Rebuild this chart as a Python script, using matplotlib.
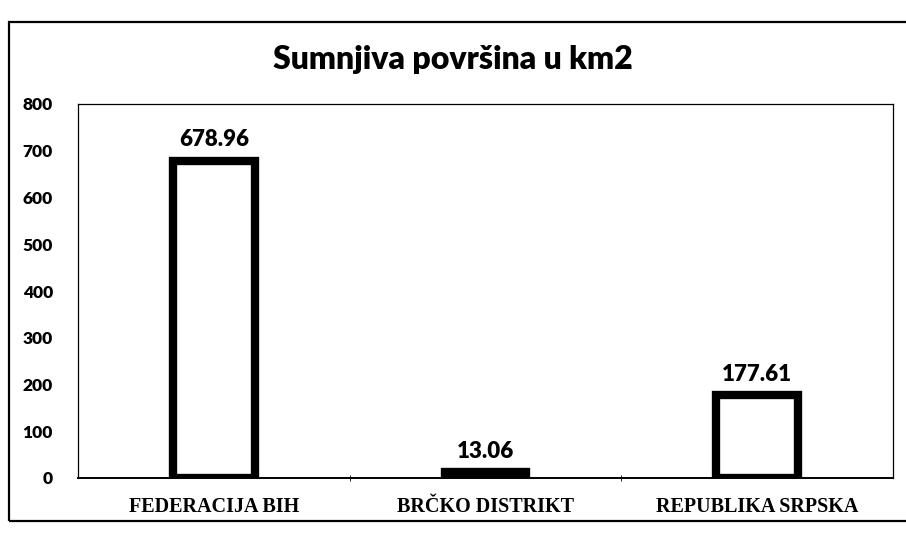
import matplotlib.pyplot as plt
from matplotlib.patches import Rectangle

# data
categories = ["FEDERACIJA BIH", "BRČKO DISTRIKT", "REPUBLIKA SRPSKA"]
values = [678.96, 13.06, 177.61]
value_labels = ["678.96", "13.06", "177.61"]
yticks = [0, 100, 200, 300, 400, 500, 600, 700, 800]

fig = plt.figure(figsize=(9.06, 5.35), dpi=100)
W, H = 906, 535

# outer chart frame
fig.patches.append(Rectangle((9 / W, 1 - 521 / H), 1.2, (521 - 22) / H,
                             transform=fig.transFigure, fill=False,
                             edgecolor="black", linewidth=1.6))

ax = fig.add_axes([78 / W, 1 - 478 / H, (893 - 78) / W, (478 - 104) / H])

x = list(range(len(categories)))
bars = ax.bar(x, values, width=0.3, facecolor="white", edgecolor="black",
              linewidth=6)

ax.set_xlim(-0.5, 2.5)
ax.set_ylim(0, 800)
ax.set_yticks(yticks)
ax.set_yticklabels([str(t) for t in yticks], fontsize=12.5, fontweight="heavy",
                   family="Lato")
ax.tick_params(axis="y", length=0, pad=18)

ax.set_xticks(x)
ax.set_xticklabels(categories, fontsize=14.5, fontweight="bold",
                   family="Liberation Serif")
ax.tick_params(axis="x", length=0, pad=14)
ax.set_xticks([0.5, 1.5], minor=True)
ax.tick_params(axis="x", which="minor", length=5, direction="inout")

for s in ax.spines.values():
    s.set_linewidth(0.9)
ax.spines["bottom"].set_linewidth(1.4)

for xi, v, lab in zip(x, values, value_labels):
    ax.text(xi, v + 22, lab, ha="center", va="bottom", fontsize=16,
            fontweight="heavy", family="Lato")

fig.text(0.5, 1 - 59 / H, "Sumnjiva površina u km2", ha="center",
         va="center", fontsize=23, fontweight="heavy", family="Lato")

fig.savefig("out.png", dpi=100)
